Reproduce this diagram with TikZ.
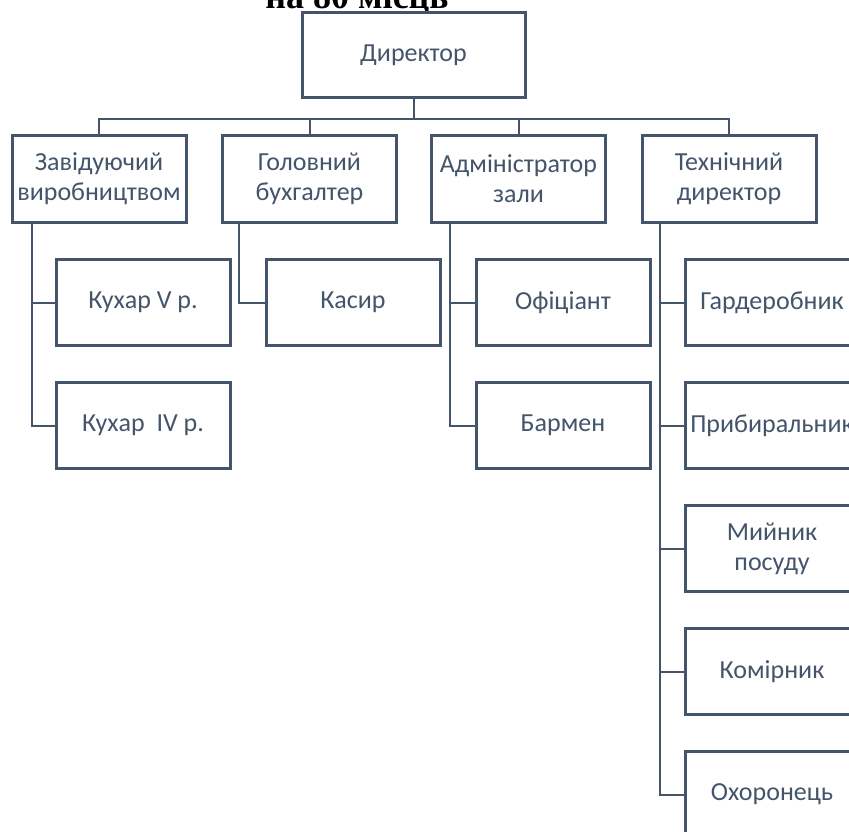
\documentclass[tikz,border=0pt]{standalone}
\usepackage{fontspec}
\setmainfont{Carlito}
\newfontfamily\titlefont{Liberation Serif}
\definecolor{ink}{HTML}{44546A}
\begin{document}
\begin{tikzpicture}[x=1pt,y=-1pt,
  box/.style={draw=ink, line width=3pt, fill=white, minimum width=174pt, minimum height=86pt,
    inner sep=0pt, align=center, text=ink, font=\fontsize{26}{30}\selectfont},
  link/.style={draw=ink, line width=2pt}]
\useasboundingbox (0,0) rectangle (849,832);
\clip (0,0) rectangle (849,832);
\node[font=\titlefont\bfseries\fontsize{36}{40}\selectfont, anchor=base] (title) at (357,9) {на 80 місць};
\node[box, minimum width=223pt, minimum height=85pt] (dir) at (413.5,55.5) {Директор};
\node[box] (zav) at (99,179) {Завідуючий\\виробництвом};
\node[box] (gol) at (309.5,179) {Головний\\бухгалтер};
\node[box] (adm) at (518.5,179) {Адміністратор\\зали};
\node[box] (teh) at (729,179) {Технічний\\директор};
\node[box] (k5) at (143,302.5) {Кухар V р.};
\node[box] (k4) at (143,425.5) {Кухар\ \ IV р.};
\node[box] (kas) at (353,302.5) {Касир};
\node[box] (ofi) at (563,302.5) {Офіціант};
\node[box] (bar) at (563,425.5) {Бармен};
\node[box] (gar) at (772,302.5) {Гардеробник};
\node[box] (pry) at (772,425.5) {Прибиральник};
\node[box] (myi) at (772,548.5) {Мийник\\посуду};
\node[box] (kom) at (772,671.5) {Комірник};
\node[box] (oho) at (772,794.5) {Охоронець};
\foreach \n in {zav,gol,adm,teh}
  \draw[link] (dir.south) -- ++(0,20) -| (\n.north);
\draw[link] ([xshift=-67pt]zav.south) |- (k5.west);
\draw[link] ([xshift=-67pt]zav.south) |- (k4.west);
\draw[link] ([xshift=-70.5pt]gol.south) |- (kas.west);
\draw[link] ([xshift=-68.5pt]adm.south) |- (ofi.west);
\draw[link] ([xshift=-68.5pt]adm.south) |- (bar.west);
\foreach \n in {gar,pry,myi,kom,oho}
  \draw[link] ([xshift=-69pt]teh.south) |- (\n.west);
\end{tikzpicture}
\end{document}
